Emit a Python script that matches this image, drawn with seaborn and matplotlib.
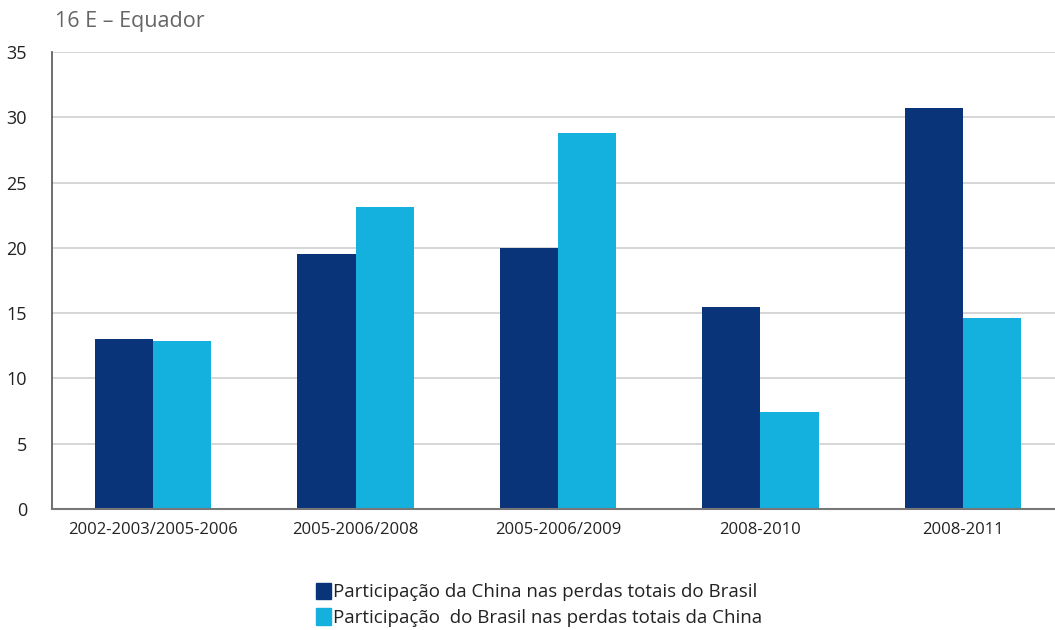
import pandas as pd
import matplotlib.pyplot as plt
import matplotlib.patches as mpatches
import seaborn as sns

# data
categories = ["2002-2003/2005-2006", "2005-2006/2008", "2005-2006/2009",
              "2008-2010", "2008-2011"]
china_share = [13.0, 19.5, 20.0, 15.5, 30.7]
brasil_share = [12.9, 23.1, 28.8, 7.4, 14.6]
series_names = ["Participação da China nas perdas totais do Brasil",
                "Participação  do Brasil nas perdas totais da China"]
colors = ["#0A347A", "#14B0DE"]

df = pd.DataFrame({
    "periodo": categories * 2,
    "valor": china_share + brasil_share,
    "serie": [series_names[0]] * 5 + [series_names[1]] * 5,
})

sns.set_style("white")
plt.rcParams["font.family"] = ["Open Sans", "DejaVu Sans"]

fig = plt.figure(figsize=(10.55, 6.3), dpi=100)
# axes runs a little past the right edge, like the source
ax = fig.add_axes([52 / 1055, 1 - 509 / 630, (1064 - 52) / 1055, (509 - 52) / 630])

sns.barplot(data=df, x="periodo", y="valor", hue="serie",
            palette=colors, width=0.575, saturation=1,
            edgecolor="none", linewidth=0, ax=ax, legend=False)

ax.set_ylim(0, 35)
ax.set_xlim(-0.5, 4.5)
ax.set_yticks(range(0, 36, 5))
ax.yaxis.grid(True, color="#d0d0d0", linewidth=1.2)
ax.set_axisbelow(True)
ax.set_xlabel("")
ax.set_ylabel("")

# category ticks hidden; boundary ticks drawn as minor ticks
ax.tick_params(axis="x", which="major", length=0, pad=9,
               labelsize=12, labelcolor="#222222")
ax.set_xticks([0.5, 1.5, 2.5, 3.5], minor=True)
ax.tick_params(axis="x", which="minor", length=13, width=1.2,
               color="#555555", direction="out")
ax.tick_params(axis="y", length=14, width=1.2, color="#555555",
               labelsize=13, labelcolor="#222222", pad=4)

for s in ["top", "right"]:
    ax.spines[s].set_visible(False)
ax.spines["left"].set_color("#555555")
ax.spines["left"].set_linewidth(1.2)
ax.spines["bottom"].set_color("#777777")
ax.spines["bottom"].set_linewidth(1.5)

fig.text(55 / 1055, 1 - 22 / 630, "16 E – Equador", fontsize=15.5,
         color="#666666", va="center", ha="left")

handles = [mpatches.Patch(color=c, label=n) for c, n in zip(colors, series_names)]
fig.legend(handles=handles, loc="upper left",
           bbox_to_anchor=(308 / 1055, 1 - 575 / 630), frameon=False,
           fontsize=13.5, handlelength=0.8, handleheight=1.0,
           handletextpad=0.15, labelspacing=0.35, borderaxespad=0,
           labelcolor="#222222")

fig.savefig("out.png", dpi=100, facecolor="white")
